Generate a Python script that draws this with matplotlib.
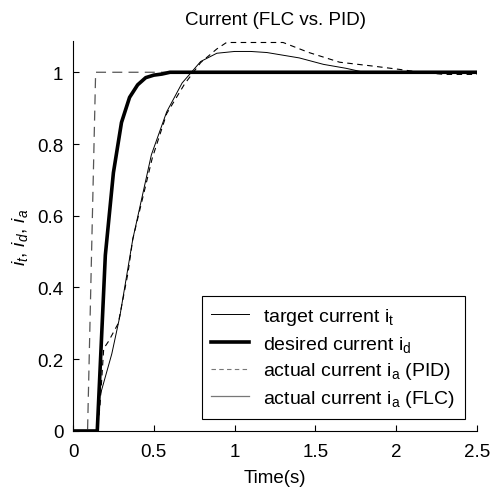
import matplotlib
matplotlib.use("Agg")
import matplotlib.pyplot as plt
from matplotlib.lines import Line2D

plt.rcParams['font.family'] = ['Liberation Sans', 'DejaVu Sans']
plt.rcParams['mathtext.fontset'] = 'custom'
plt.rcParams['mathtext.rm'] = 'Liberation Sans'
plt.rcParams['mathtext.it'] = 'Liberation Sans:italic'

# target current i_t
t_target = [0, 0.09, 0.14, 2.5]
i_target = [0, 0, 1, 1]

# desired current i_d
t_desired = [0, 0.15, 0.2, 0.25, 0.3, 0.35, 0.4, 0.45, 0.5, 0.55, 0.6, 0.7, 2.5]
i_desired = [0, 0, 0.49, 0.72, 0.86, 0.93, 0.965, 0.985, 0.992, 0.995, 1.0, 1.0, 1.0]

# actual current i_a (PID)
t_pid = [0, 0.15, 0.167, 0.19, 0.22, 0.28, 0.34, 0.37, 0.49, 0.58, 0.69, 0.79, 0.89,
         0.95, 1.3, 1.46, 1.65, 1.86, 2.02, 2.15, 2.3, 2.5]
i_pid = [0, 0, 0.07, 0.23, 0.25, 0.30, 0.44, 0.535, 0.76, 0.885, 0.967, 1.027, 1.065,
         1.083, 1.083, 1.055, 1.028, 1.017, 1.008, 1.0, 0.994, 0.994]

# actual current i_a (FLC)
t_flc = [0, 0.148, 0.167, 0.24, 0.29, 0.37, 0.485, 0.58, 0.675, 0.79, 0.89, 1.0,
         1.1, 1.2, 1.4, 1.55, 1.69, 1.8, 2.5]
i_flc = [0, 0, 0.098, 0.215, 0.32, 0.535, 0.77, 0.89, 0.97, 1.03, 1.053, 1.058,
         1.058, 1.055, 1.04, 1.022, 1.011, 1.0, 1.0]

legend_labels = [r'target current i$_\mathregular{t}$',
                 r'desired current i$_\mathregular{d}$',
                 r'actual current i$_\mathregular{a}$ (PID)',
                 r'actual current i$_\mathregular{a}$ (FLC)']

fig = plt.figure(figsize=(4.91, 4.89), dpi=100)
ax = fig.add_axes([0.1487, 0.1166, 0.8228, 0.7974])

ax.plot(t_target, i_target, color='#555555', lw=0.9, dashes=(8, 5))
ax.plot(t_pid, i_pid, color='black', lw=0.8, dashes=(5, 4))
ax.plot(t_flc, i_flc, color='black', lw=0.7)
ax.plot(t_desired, i_desired, color='black', lw=2.6)

ax.set_xlim(0, 2.5)
ax.set_ylim(0, 1.087)
ax.set_xticks([0, 0.5, 1, 1.5, 2, 2.5])
ax.set_xticklabels(['0', '0.5', '1', '1.5', '2', '2.5'])
ax.set_yticks([0, 0.2, 0.4, 0.6, 0.8, 1])
ax.set_yticklabels(['0', '0.2', '0.4', '0.6', '0.8', '1'])
ax.tick_params(direction='in', length=4, width=0.8, labelsize=13.5)
ax.tick_params(axis='x', pad=9)
ax.tick_params(axis='y', pad=7)
ax.spines['top'].set_visible(False)
ax.spines['right'].set_visible(False)

ax.set_title('Current (FLC vs. PID)', fontsize=13.5, pad=12)
ax.set_xlabel('Time(s)', fontsize=13.5, labelpad=6)
ax.set_ylabel(r'$i_t,\,i_d,\,i_a$', fontsize=14, labelpad=5)

handles = [Line2D([], [], color='black', lw=0.7),
           Line2D([], [], color='black', lw=2.6),
           Line2D([], [], color='#777777', lw=0.8, dashes=(4, 3)),
           Line2D([], [], color='#777777', lw=0.9)]
leg = ax.legend(handles, legend_labels, loc='lower right', bbox_to_anchor=(0.97, 0.031),
                fontsize=14, frameon=True, fancybox=False, edgecolor='black',
                framealpha=1, handlelength=1.95, handletextpad=0.7,
                labelspacing=0.35, borderpad=0.5, borderaxespad=0)
leg.get_frame().set_linewidth(0.8)

fig.savefig('out.png', dpi=100)
